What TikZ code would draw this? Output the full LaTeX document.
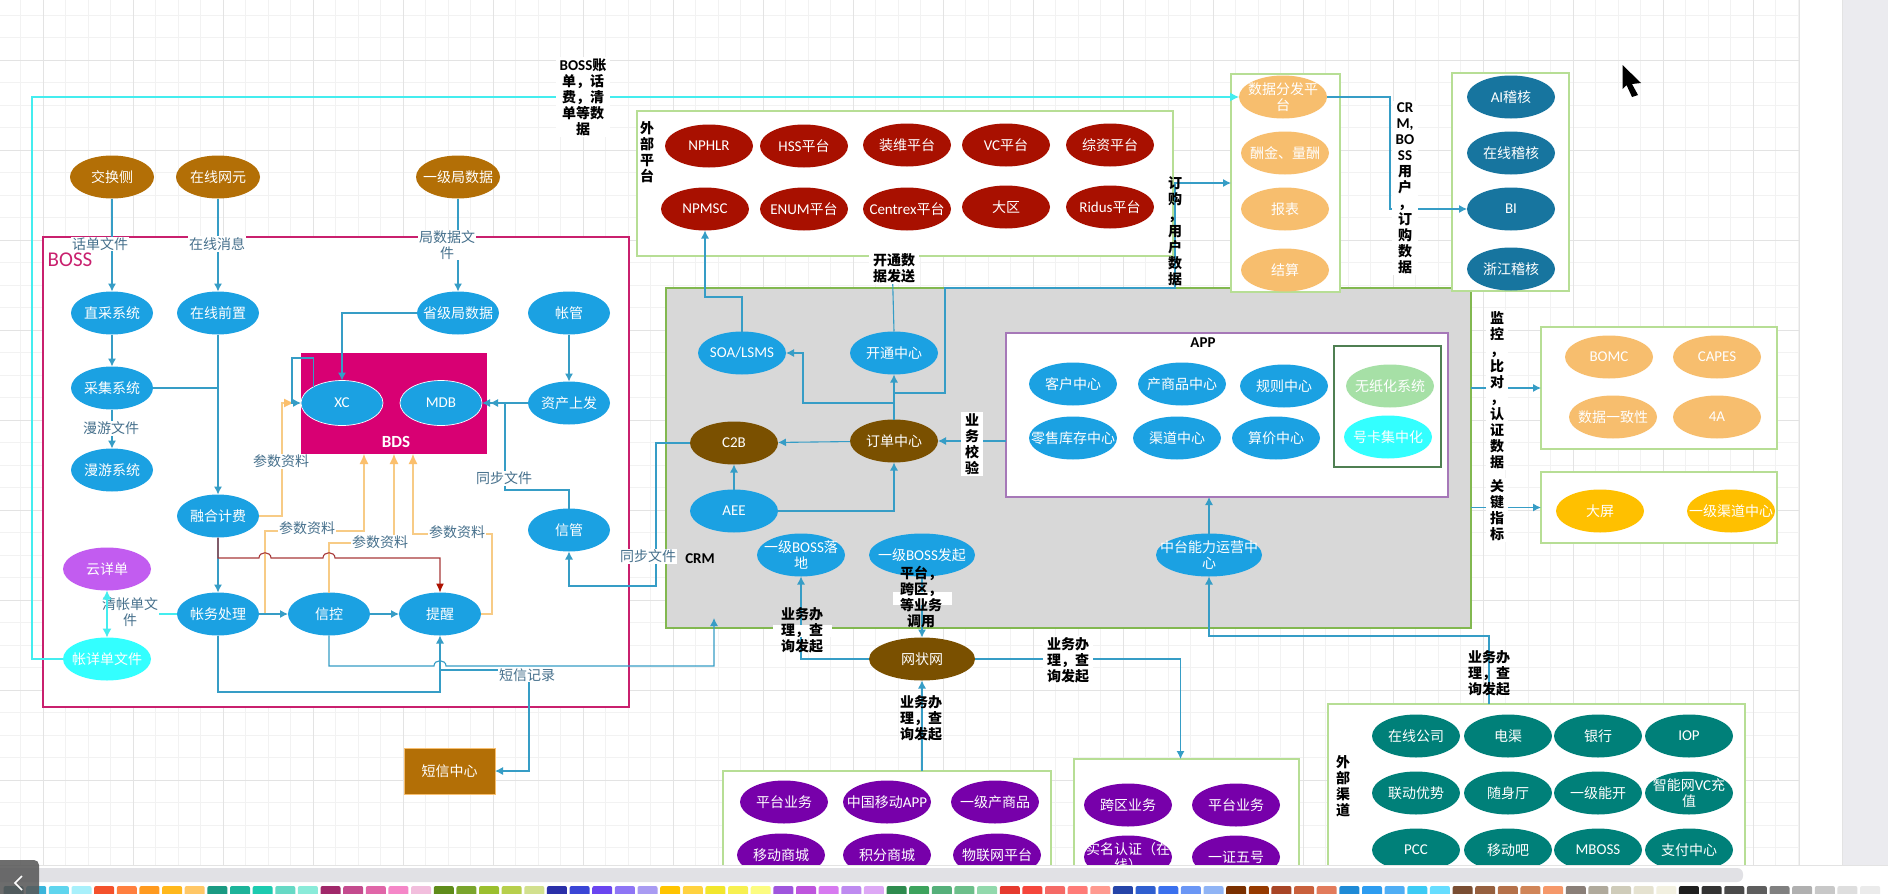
\documentclass[tikz,border=0pt]{standalone}
\usepackage{fontspec}
\usepackage{xcolor}
\usetikzlibrary{shapes.geometric,arrows.meta}
\setmainfont{Noto Sans CJK SC}
\newfontfamily\latfont{Carlito}
\newcommand{\latf}[1]{{\latfont\fontsize{15}{16}\selectfont #1}}
\begin{document}
\begin{tikzpicture}[x=1pt,y=-1pt,
  oval/.style={ellipse,minimum width=88,minimum height=43,inner xsep=-20,inner ysep=-8,outer sep=0,
    text=white,align=center,font=\fontsize{14}{16}\selectfont},
  panel/.style={rectangle,draw=panelgreen,line width=1.4,fill=white,inner sep=0,outer sep=0},
  conn/.style={draw=lineblue,line width=1.1,-{Latex[length=8pt,width=8pt]}},
  connplain/.style={draw=lineblue,line width=1.1},
  connorg/.style={draw=lineorg,line width=1.1,-{Latex[length=10pt,width=9pt,color=headorg]}},
  conncy/.style={draw=linecyan,line width=1.2,-{Latex[length=9pt,width=9pt]}},
  connred/.style={draw=linered,line width=1.1,-{Latex[length=9pt,width=8pt,color=headred]}},
  lbl/.style={fill=white,inner sep=1,text=labelblue,align=center,font=\fontsize{14}{16}\selectfont},
  blbl/.style={inner sep=1,text=black,align=center,font=\fontsize{14}{16}\selectfont\bfseries},
  blblw/.style={blbl,fill=white,inner xsep=4},
  swatch/.style={rounded corners=2}]
\definecolor{panelgreen}{HTML}{B7DE95}
\definecolor{lineblue}{HTML}{369DC6}
\definecolor{lineorg}{HTML}{F7CB86}
\definecolor{headorg}{HTML}{FBBF6C}
\definecolor{linecyan}{HTML}{44EDEF}
\definecolor{linered}{HTML}{A83A3A}
\definecolor{headred}{HTML}{AE1100}
\definecolor{labelblue}{HTML}{46708C}
\definecolor{gridminor}{HTML}{F2F2F2}
\definecolor{gridmajor}{HTML}{E3E3E3}
\definecolor{ovalblue}{HTML}{1BA1E2}
\definecolor{ovalbrown}{HTML}{B36F06}
\definecolor{ovalbrowndk}{HTML}{7A5000}
\definecolor{ovalred}{HTML}{A81000}
\definecolor{ovalorange}{HTML}{F7BE6E}
\definecolor{ovalnavy}{HTML}{17759F}
\definecolor{ovalamber}{HTML}{FFC000}
\definecolor{ovalpurple}{HTML}{7700AA}
\definecolor{ovalteal}{HTML}{008079}
\definecolor{ovalviolet}{HTML}{C25CF0}
\definecolor{ovalcyan}{HTML}{33FFFF}
\definecolor{ovalmint}{HTML}{A6E0A6}
\definecolor{bdspink}{HTML}{D80073}
\definecolor{bossline}{HTML}{C9206E}
\definecolor{crmgrey}{HTML}{D8D8D8}
\definecolor{crmline}{HTML}{82B850}
\definecolor{appline}{HTML}{A678B8}
\definecolor{innerline}{HTML}{4F7F52}
\definecolor{sidegrey}{HTML}{EBEBEF}
\definecolor{barshade}{HTML}{E1E1E5}
\useasboundingbox (0,0) rectangle (1888,894);
\fill[white] (0,0) rectangle (1888,894);
\foreach \i in {0,...,79}
  {\draw[gridminor,line width=.8] (20.5+22.5*\i,0) -- (20.5+22.5*\i,865);}
\foreach \i in {0,...,38}
  {\draw[gridminor,line width=.8] (0,15+22.5*\i) -- (1799,15+22.5*\i);}
\foreach \i in {0,...,19}
  {\draw[gridmajor,line width=1] (43+90*\i,0) -- (43+90*\i,865);}
\foreach \i in {0,...,9}
  {\draw[gridmajor,line width=1] (0,60+90*\i) -- (1799,60+90*\i);}
\draw[gridmajor,line width=1] (1799,0) -- (1799,865);

\node[rectangle,draw=bossline,line width=1.2,fill=white,minimum width=586,minimum height=470,inner sep=0,outer sep=0] (bossbox) at (336,472) {};
\node[rectangle,fill=bdspink,minimum width=186,minimum height=101,inner sep=0,outer sep=0] (bds) at (394,403.5) {};
\node[rectangle,draw=crmline,line width=2.2,fill=crmgrey,minimum width=805,minimum height=340,inner sep=0,outer sep=0] (crm) at (1068.5,458) {};
\node[rectangle,draw=appline,line width=1.4,fill=white,minimum width=442,minimum height=164,inner sep=0,outer sep=0] (app) at (1227,415) {};
\node[rectangle,draw=innerline,line width=1.2,fill=white,minimum width=107,minimum height=121,inner sep=0,outer sep=0] (innerbox) at (1387.5,406.5) {};
\foreach \nm/\cx/\cy/\wid/\hei in {waipt/905/183.5/536/145,fenfabox/1285.5/183/109/218,jihebox/1510.5/182/117/218,
  bomcbox/1659/388/236/122,dapingbox/1659/507.5/236/71,leftbox/887/835.5/328/129,rightbox/1186.5/829.5/225/141,qudaobox/1536.5/802/417/196}
  {\node[panel,minimum width=\wid,minimum height=\hei] (\nm) at (\cx,\cy) {};}
\node[rectangle,draw=ovalorange,line width=.6,fill=ovalbrown,minimum width=91,minimum height=46,inner sep=0,outer sep=0,text=white,font=\fontsize{14}{16}\selectfont] (sms) at (449.5,771) {短信中心};

\foreach \nm/\txt/\cx/\cy in {jiaohuan/交换侧/112/177,zaixianwy/在线网元/218/177,yijiju/一级局数据/458/177}
  {\node[oval,fill=ovalbrown,minimum width=84] (\nm) at (\cx,\cy) {\txt};}
\foreach \nm/\txt/\cx/\cy in {zhicai/直采系统/112/313,zaixianqz/在线前置/218/313,shengju/省级局数据/458/313,zhangguan/帐管/569/313,
  caiji/采集系统/112/388,manyou/漫游系统/112/470,zichan/资产上发/569/403,ronghe/融合计费/218/516,xinguan/信管/569/530,
  zhangwu/帐务处理/218/614,xinkong/信控/329/614,tixing/提醒/440/614}
  {\node[oval,fill=ovalblue,minimum width=82] (\nm) at (\cx,\cy) {\txt};}
\foreach \nm/\txt/\cx/\cy in {xc/\latf{XC}/342/403,mdb/\latf{MDB}/441/403}
  {\node[oval,fill=ovalblue,draw=white,line width=.7,minimum width=82,minimum height=45] (\nm) at (\cx,\cy) {\txt};}
\node[text=white,font=\latfont\bfseries\fontsize{17}{18}\selectfont,inner sep=0] (bdstext) at (396,442) {BDS};
\node[oval,fill=ovalviolet] (yunxd) at (107,569) {云详单};
\node[oval,fill=ovalcyan] (zhangxd) at (107,659) {帐详单文件};

\foreach \nm/\txt/\cx/\cy in {nphlr/\latf{NPHLR}/709/146,hss/\latf{HSS}平台/804/146,zhuangwei/装维平台/907/145,vc/\latf{VC}平台/1006/145,zongzi/综资平台/1110/145,
  npmsc/\latf{NPMSC}/705/209,enum/\latf{ENUM}平台/804/209,centrex/\latf{Centrex}平台/907/209,daqu/大区/1006/207,ridus/\latf{Ridus}平台/1110/207}
  {\node[oval,fill=ovalred] (\nm) at (\cx,\cy) {\txt};}
\foreach \nm/\txt/\cx/\cy in {soa/{\latf{SOA/LSMS}}/742/353,kaitong/开通中心/894/353,kehu/客户中心/1073/384,chanpin/产商品中心/1182/384,guize/规则中心/1284/386,
  lingshou/零售库存中心/1073/438,qudao/渠道中心/1177/438,suanjia/算价中心/1276/438,aee/\latf{AEE}/734/511,luodi/一级\latf{BOSS}落\\地/801/555}
  {\node[oval,fill=ovalblue] (\nm) at (\cx,\cy) {\txt};}
\node[oval,fill=ovalblue,minimum width=106] (faqi) at (922,555) {一级\latf{BOSS}发起};
\node[oval,fill=ovalblue,minimum width=106] (zhongtai) at (1209,555) {中台能力运营中\\心};
\node[oval,fill=ovalmint] (wuzhi) at (1390,386) {无纸化系统};
\node[oval,fill=ovalcyan] (haoka) at (1388,437) {号卡集中化};
\foreach \nm/\txt/\cx/\cy in {c2b/\latf{C2B}/734/443,dingdan/订单中心/894/441}
  {\node[oval,fill=ovalbrowndk] (\nm) at (\cx,\cy) {\txt};}
\node[oval,fill=ovalbrowndk,minimum width=106] (wangzhuang) at (922,659) {网状网};
\foreach \nm/\txt/\cx/\cy in {fenfa/数据分发平\\台/1283/97,chouj/酬金、量酬/1285/153,baobiao/报表/1285/209,jiesuan/结算/1285/270,
  bomc/\latf{BOMC}/1609/357,capes/\latf{CAPES}/1717/357,yizhi/数据一致性/1613/417,sia/\latf{4A}/1717/417}
  {\node[oval,fill=ovalorange] (\nm) at (\cx,\cy) {\txt};}
\foreach \nm/\txt/\cx/\cy in {aijh/\latf{AI}稽核/1511/97,zaixianjh/在线稽核/1511/153,bi/\latf{BI}/1511/209,zhejiang/浙江稽核/1511/269}
  {\node[oval,fill=ovalnavy] (\nm) at (\cx,\cy) {\txt};}
\foreach \nm/\txt/\cx/\cy in {daping/大屏/1600/511,yijiqd/一级渠道中心/1731/511}
  {\node[oval,fill=ovalamber] (\nm) at (\cx,\cy) {\txt};}
\foreach \nm/\txt/\cx/\cy in {pta/平台业务/784/802,cmapp/中国移动\latf{APP}/887/802,yijicp/一级产商品/995/802,ydsc/移动商城/781/855,jfsc/积分商城/887/855,wulian/物联网平台/997/855,
  kuaqu/跨区业务/1128/805,ptb/平台业务/1236/805,shiming/实名认证（在\\线）/1128/857,yizheng/一证五号/1236/857}
  {\node[oval,fill=ovalpurple] (\nm) at (\cx,\cy) {\txt};}
\foreach \nm/\txt/\cx/\cy in {zxgs/在线公司/1416/736,dianqu/电渠/1508/736,yinhang/银行/1598/736,iop/\latf{IOP}/1689/736,
  liandong/联动优势/1416/793,suishen/随身厅/1508/793,yijink/一级能开/1598/793,zhineng/智能网\latf{VC}充\\值/1689/793,
  pcc/\latf{PCC}/1416/850,ydba/移动吧/1508/850,mboss/\latf{MBOSS}/1598/850,zhifu/支付中心/1689/850}
  {\node[oval,fill=ovalteal] (\nm) at (\cx,\cy) {\txt};}

\coordinate (cjbr) at (218,388);
\coordinate (xcloop) at (292,358);
\coordinate (tbbend) at (505,490);
\coordinate (tbup) at (505,403);
\coordinate (orgxc) at (282,403);
\coordinate (oa) at (265,531);
\coordinate (ob) at (329,543);
\coordinate (oc) at (492,534);
\coordinate (redbend) at (218,558);
\coordinate (zwbot) at (218,692);
\coordinate (crmin) at (714,618);
\coordinate (smsbr) at (440,670);
\coordinate (smsbend) at (529,670);
\coordinate (qingbr) at (107,614);
\coordinate (bossup) at (32,97);
\coordinate (ddbr) at (894,403);
\coordinate (soabend) at (803,353);
\coordinate (dybr) at (894,393);
\coordinate (dya) at (945,288);
\coordinate (dyb) at (1175,183);
\coordinate (soaup) at (705,297);
\coordinate (ktup) at (892,256);
\coordinate (c2bd) at (656,586);
\coordinate (qdtop) at (1489,704);
\coordinate (qdbend) at (1489,636);
\coordinate (bibend) at (1390,209);

\draw[conn] (jiaohuan) -- (zhicai);
\draw[conn] (zaixianwy) -- (zaixianqz);
\draw[conn] (yijiju) -- (shengju);
\draw[conn] (zhicai) -- (caiji);
\draw[conn] (caiji) -- (manyou);
\draw[conn] (zaixianqz) -- (ronghe);
\draw[connplain] (caiji.east) -- (cjbr);
\draw[conn] (shengju.west) -| (xc.north);
\draw[connorg] (ronghe.east) -| (orgxc) -- ([xshift=-7pt]xc.west);
\draw[conn] (xc.151) |- (xcloop) |- (xc.west);
\draw[conn] (zhangguan) -- (zichan);
\draw[conn] (zichan.west) -- ([xshift=8pt]mdb.east);
\draw[conn] (xinguan.north) |- (tbbend) -- (tbup) -- (mdb.east);
\draw[connorg] (zhangwu.east) -| (oa) -| ([xshift=-30pt]bds.south);
\draw[connorg] (xinkong.north) -- (ob) -| (bds.south);
\draw[connorg] (tixing.east) -| (oc) -| ([xshift=19pt]bds.south);
\draw[conn] (ronghe) -- (zhangwu);
\draw[connred] (ronghe.south) -- (redbend) -- (259,558) .. controls (259,551) and (271,551) .. (271,558) -- (323,558) .. controls (323,551) and (335,551) .. (335,558) -| (tixing.north);
\draw[conn] (zhangwu) -- (xinkong);
\draw[conn] (xinkong) -- (tixing);
\draw[conn] (zhangwu.south) -- (zwbot) -| (tixing.south);
\draw[conn] (xinkong.south) |- (434,666) .. controls (434,659) and (446,659) .. (446,666) -| (crmin);
\draw[conn] (smsbr) -- (smsbend) |- (sms.east);
\draw[conncy,-] (zhangwu.west) -- (qingbr);
\draw[conncy] (zhangxd.west) -| (bossup) -- (fenfa.west);
\draw[conn] (dingdan) -- (kaitong);
\draw[conn] (ddbr) -| (soabend) -- (soa.east);
\draw[conn] (dybr) -| (dya) -| (dyb) -- (fenfabox.west);
\draw[conn] (soa.north) |- (soaup) -- (npmsc.south);
\draw[connplain] (kaitong.north) -- (ktup);
\draw[conn] (app.west |- dingdan.east) -- (dingdan.east);
\draw[conn] (dingdan) -- (c2b);
\draw[conn] (c2b.west) -| (c2bd) -| (xinguan.south);
\draw[conn] (aee) -- (c2b);
\draw[conn] (aee.east) -| (dingdan.south);
\draw[conn] (wangzhuang.west) -| (luodi.south);
\draw[conn] (faqi) -- (wangzhuang);
\draw[conn] (wangzhuang.south |- leftbox.north) -- (wangzhuang.south);
\draw[conn] (wangzhuang.east) -| ([xshift=-6pt]rightbox.north);
\draw[conn] (qdtop) -- (qdbend) -| (zhongtai.south);
\draw[conn] (zhongtai.north) -- (zhongtai.north |- app.south);
\draw[conn] (crm.east |- bomcbox.west) -- (bomcbox.west);
\draw[conn] (crm.east |- dapingbox.west) -- (dapingbox.west);
\draw[conn] (fenfa.east) -| (bibend) -- (bi.west);

\node[text=bossline,inner sep=0,font=\latfont\fontsize{21}{22}\selectfont] (bosstext) at (70,260) {BOSS};
\node[blbl,font=\latfont\bfseries\fontsize{15}{16}\selectfont] (crmtext) at (700,559) {CRM};
\node[blbl,font=\latfont\bfseries\fontsize{15}{16}\selectfont] (apptext) at (1203,343) {APP};
\foreach \nm/\txt/\cx/\cy in {lbhua/话单文件/100/244,lbzx/在线消息/217/244,lbju/局数据文\\件/447/245,lbmy/漫游文件/111/428,lbcsa/参数资料/281/461,
  lbcsb/参数资料/307/528,lbcsc/参数资料/380/542,lbcsd/参数资料/457/532,lbtba/同步文件/504/478,lbtbb/同步文件/648/556,lbqing/清帐单文\\件/130/612,lbdx/短信记录/527/675}
  {\node[lbl] (\nm) at (\cx,\cy) {\txt};}
\draw[conncy] (qingbr) -- (yunxd.south);
\draw[conncy] (qingbr) -- (zhangxd.north);
\fill[white] (893,592) rectangle (952,605);
\fill[white] (773,625) rectangle (832,637);
\foreach \nm/\txt/\cx/\cy in {lbwp/外\\部\\平\\台/647/152,lbdg/订\\购\\，\\用\\户\\数\\据/1175/231,
  lbla/业务办\\理，查\\询发起/802/630,lbpt/平台，\\跨区，\\等业务\\调用/921/597,
  lbwb/业务办\\理，查\\询发起/921/718,lbqd/业务办\\理，查\\询发起/1489/673,lbwq/外\\部\\渠\\道/1343/786}
  {\node[blbl] (\nm) at (\cx,\cy) {\txt};}
\foreach \nm/\txt/\cx/\cy in {lbzd/\latf{BOSS}账\\单，话\\费，清\\单等数\\据/583/97,lbkt/开通数\\据发送/894/268,
  lbcr/\latf{CR}\\\latf{M,}\\\latf{BO}\\\latf{SS}\\用\\户\\，\\订\\购\\数\\据/1405/188,lbjk/监\\控\\，\\比\\对\\，\\认\\证\\数\\据/1497/390,lbgj/关\\键\\指\\标/1497/510,
  lbjy/业\\务\\校\\验/972/444,lbwa/业务办\\理，查\\询发起/1068/660}
  {\node[blblw] (\nm) at (\cx,\cy) {\txt};}

\fill[black] (1622.5,65) -- (1641,83) -- (1632,84) -- (1638,95) -- (1632,97) -- (1626.5,85) -- (1622.5,89) -- cycle;

\fill[sidegrey] (1843,0) rectangle (1888,865);
\draw[gridmajor,line width=1] (1842.5,0) -- (1842.5,865);
\fill[white] (0,865) rectangle (1888,894);
\draw[gridmajor,line width=.8] (0,865.5) -- (1888,865.5);
\fill[barshade,rounded corners=6] (-10,868) rectangle (1743,882);
\foreach \k/\hx in {0/1E6E80,1/3AB5DB,2/5FD5EE,3/A8F0FB,4/F4512C,5/FF7F3F,6/FF9A1F,7/FFB81C,8/FFC766,9/1A9A82,10/1DB49A,11/1CCBB0,12/66D9C5,13/8AEBD9,14/A0286A,15/C44B8E,16/E066A8,17/F587C8,18/F2BEDD,
  19/5F8C1A,20/7AA52C,21/9BBF2E,22/B7CF4C,23/D2E08E,24/2A2FA8,25/3A45D6,26/6A45F0,27/8E75F5,28/A99BF2,29/FFC400,30/FFD23F,31/F2E62C,32/F7F050,33/FCFC80,
  34/9F55DD,35/BE55DD,36/D77AF0,37/BE8AF0,38/DDA8F5,39/2E8B4E,40/3DA35D,41/55B07A,42/6CBF8A,43/92D9AC,44/E53A2E,45/F5463C,46/F56A66,47/FF7B78,48/FF9A90,
  49/2544A8,50/2F5FD0,51/3A70EE,52/6A96F5,53/90B4F5,54/7A3000,55/963A00,56/A84526,57/C9603C,58/E27B5C,59/1E8AD6,60/2D9CF0,61/4FAEF5,62/3CCBF5,63/66DDFF,
  64/7A4E33,65/96603F,66/B5714A,67/D08558,68/F5986A,69/8A7F78,70/B0AA9C,71/CFCCBA,72/E5E2D0,73/F2F0E0,74/1E1E1E,75/333333,76/4A4A4A,77/5E5E5E,78/808080,79/B0B0B0,80/C8C8C8,81/DEDEDE,82/EBEBEB}
  {\definecolor{swc}{HTML}{\hx}\fill[swatch,swc] (3.6+22.64*\k,886) rectangle (23.6+22.64*\k,896);}
\fill[black!65,opacity=.88,rounded corners=5] (-10,860) rectangle (39,904);
\draw[white,line width=1.6] (22,876) -- (15,883) -- (22,890);
\end{tikzpicture}
\end{document}
